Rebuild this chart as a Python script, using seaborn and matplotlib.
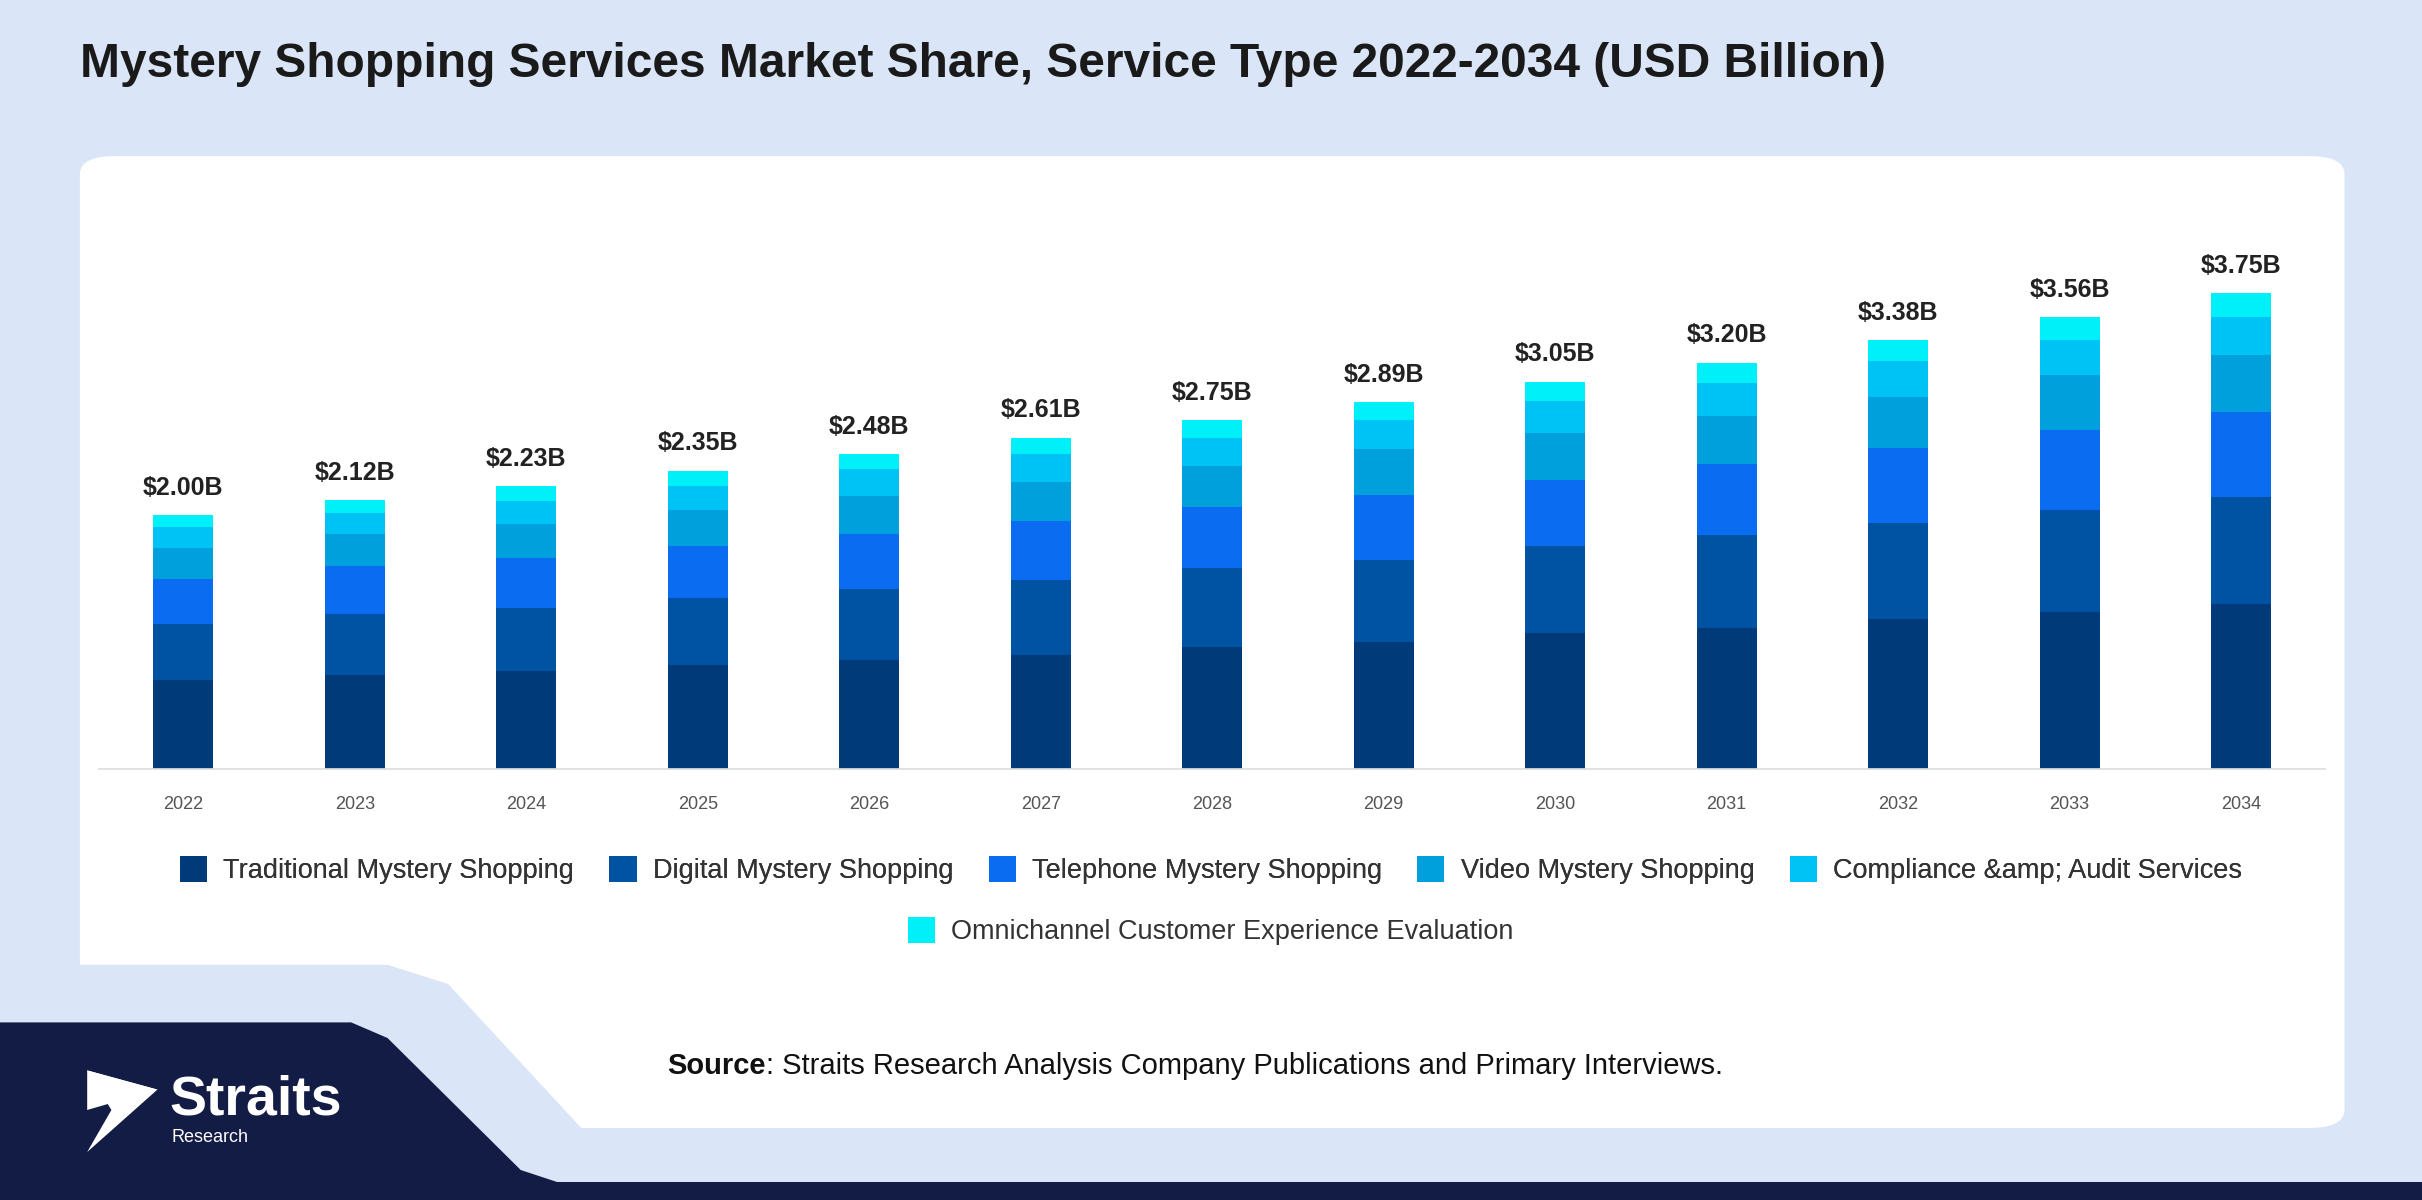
import matplotlib
matplotlib.use("Agg")
import matplotlib.pyplot as plt
import seaborn as sns
import pandas as pd
import numpy as np
from matplotlib.patches import FancyBboxPatch, Polygon, Patch

years = [str(y) for y in range(2022, 2035)]
totals = [2.00, 2.12, 2.23, 2.35, 2.48, 2.61, 2.75, 2.89, 3.05, 3.20, 3.38, 3.56, 3.75]
traditional = [0.70, 0.74, 0.77, 0.82, 0.86, 0.90, 0.96, 1.00, 1.07, 1.11, 1.18, 1.24, 1.30]
digital = [0.44, 0.48, 0.50, 0.53, 0.56, 0.59, 0.62, 0.65, 0.69, 0.73, 0.76, 0.80, 0.84]
telephone = [0.36, 0.38, 0.39, 0.41, 0.43, 0.46, 0.48, 0.51, 0.52, 0.56, 0.59, 0.63, 0.67]
video = [0.24, 0.25, 0.27, 0.28, 0.30, 0.31, 0.33, 0.36, 0.37, 0.38, 0.40, 0.43, 0.45]
compliance = [0.17, 0.17, 0.18, 0.19, 0.21, 0.22, 0.22, 0.23, 0.25, 0.26, 0.28, 0.28, 0.30]
omnichannel = [0.09, 0.10, 0.12, 0.12, 0.12, 0.13, 0.14, 0.14, 0.15, 0.16, 0.17, 0.18, 0.19]
series_names = ["Traditional Mystery Shopping", "Digital Mystery Shopping",
                "Telephone Mystery Shopping", "Video Mystery Shopping",
                "Compliance &amp; Audit Services",
                "Omnichannel Customer Experience Evaluation"]
colors = ["#003a78", "#0052a3", "#0a6cf0", "#00a0dc", "#00c3f5", "#00f0fa"]

series = [traditional, digital, telephone, video, compliance, omnichannel]
sns.set_theme(style="white")
plt.rcParams['font.family'] = ['Liberation Sans', 'DejaVu Sans']

fig = plt.figure(figsize=(24.22, 12), dpi=100)
fig.patch.set_facecolor("#dae6f7")

fig.patches.append(FancyBboxPatch((0.033, 0.06), 0.935, 0.81, boxstyle="round,pad=0,rounding_size=0.015",
                                  transform=fig.transFigure, facecolor="white", edgecolor="none", zorder=0))
fig.patches.append(Polygon([(0, 0), (0, 0.196), (0.16, 0.196), (0.185, 0.18), (0.24, 0.06), (0.26, 0)],
                           closed=True, transform=fig.transFigure, facecolor="#dae6f7", edgecolor="none", zorder=0.5))
fig.patches.append(Polygon([(0, 0), (0, 0.148), (0.145, 0.148), (0.16, 0.135), (0.215, 0.025), (0.23, 0.015),
                            (1, 0.015), (1, 0)],
                           closed=True, transform=fig.transFigure, facecolor="#121c45", edgecolor="none", zorder=0.6))
fig.patches.append(Polygon([(0.036, 0.108), (0.065, 0.092), (0.036, 0.04), (0.046, 0.075), (0.036, 0.108)],
                           closed=True, transform=fig.transFigure, facecolor="white", edgecolor="none", zorder=1))
fig.patches.append(Polygon([(0.036, 0.108), (0.065, 0.092), (0.036, 0.075)],
                           closed=True, transform=fig.transFigure, facecolor="white", edgecolor="none", zorder=1))
fig.text(0.070, 0.083, "Straits", color="white", fontsize=40, fontweight="bold", va="center", ha="left")
fig.text(0.071, 0.052, "Research", color="white", fontsize=13, va="center", ha="left")

fig.text(0.033, 0.946, "Mystery Shopping Services Market Share, Service Type 2022-2034 (USD Billion)",
         fontsize=34.5, fontweight="bold", color="#1a1a1a", va="center", ha="left")

ax = fig.add_axes([0.041, 0.359, 0.919, 0.487])
ax.set_zorder(3)
ax.set_facecolor("none")
cum = np.cumsum(np.array(series), axis=0)
for i in range(len(series) - 1, -1, -1):
    df = pd.DataFrame({"year": years, "value": cum[i]})
    sns.barplot(data=df, x="year", y="value", color=colors[i], width=0.35, ax=ax,
                saturation=1, errorbar=None, linewidth=0, edgecolor="none")
for j, t in enumerate(totals):
    ax.text(j, cum[-1][j] + 0.12, f"${t:.2f}B", ha="center", va="bottom", fontsize=18,
            fontweight="bold", color="#222222")
ax.set_xlim(-0.49, 12.49)
ax.set_ylim(0, 4.6)
ax.set_xlabel("")
ax.set_ylabel("")
ax.set_yticks([])
for s in ["top", "right", "left"]:
    ax.spines[s].set_visible(False)
ax.spines["bottom"].set_color("#dddddd")
ax.tick_params(axis="x", length=0, labelsize=13, labelcolor="#555555", pad=19)

handles = [Patch(facecolor=c, edgecolor="none", label=n) for c, n in zip(colors, series_names)]
leg1 = fig.legend(handles=handles[:5], loc="center", bbox_to_anchor=(0.5, 0.275), ncol=5, frameon=False,
                  fontsize=19.5, handlelength=1.0, handleheight=1.1, columnspacing=1.3, handletextpad=0.6,
                  labelcolor="#333333")
fig.add_artist(leg1)
fig.legend(handles=handles[5:], loc="center", bbox_to_anchor=(0.5, 0.224), ncol=1, frameon=False,
           fontsize=19.5, handlelength=1.0, handleheight=1.1, handletextpad=0.6, labelcolor="#333333")

t1 = fig.text(0.2755, 0.112, "Source", fontsize=21, fontweight="bold", color="#111111", va="center", ha="left")
fig.canvas.draw()
bb = t1.get_window_extent().transformed(fig.transFigure.inverted())
fig.text(bb.x1, 0.112, ": Straits Research Analysis Company Publications and Primary Interviews.",
         fontsize=21, color="#111111", va="center", ha="left")

fig.savefig("out.png", dpi=100, facecolor=fig.get_facecolor())
